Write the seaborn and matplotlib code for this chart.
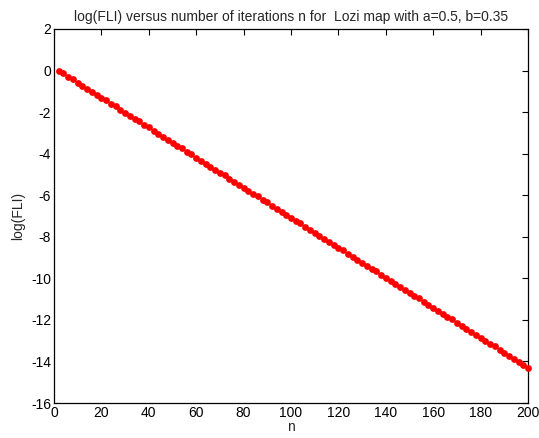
import matplotlib
matplotlib.use("Agg")
import matplotlib.pyplot as plt
import seaborn as sns
import pandas as pd

# Iteration counts and the measured log(FLI) values
n_iter = list(range(2, 201, 2))
log_fli = [
    0.00, -0.14, -0.29, -0.43, -0.58, -0.72, -0.87, -1.01, -1.16, -1.30,
    -1.44, -1.59, -1.73, -1.88, -2.02, -2.17, -2.31, -2.45, -2.60, -2.74,
    -2.89, -3.03, -3.18, -3.32, -3.47, -3.61, -3.75, -3.90, -4.04, -4.19,
    -4.33, -4.48, -4.62, -4.77, -4.91, -5.05, -5.20, -5.34, -5.49, -5.63,
    -5.78, -5.92, -6.06, -6.21, -6.35, -6.50, -6.64, -6.79, -6.93, -7.08,
    -7.22, -7.36, -7.51, -7.65, -7.80, -7.94, -8.09, -8.23, -8.38, -8.52,
    -8.66, -8.81, -8.95, -9.10, -9.24, -9.39, -9.53, -9.67, -9.82, -9.96,
    -10.11, -10.25, -10.40, -10.54, -10.69, -10.83, -10.97, -11.12, -11.26, -11.41,
    -11.55, -11.70, -11.84, -11.98, -12.13, -12.27, -12.42, -12.56, -12.71, -12.85,
    -13.00, -13.14, -13.28, -13.43, -13.57, -13.72, -13.86, -14.01, -14.15, -14.30,
]
x_ticks = list(range(0, 201, 20))
y_ticks = list(range(-16, 3, 2))

df = pd.DataFrame({"n": n_iter, "log(FLI)": log_fli})

sns.set_style("white")
plt.rcParams["font.family"] = ["Liberation Sans", "DejaVu Sans"]
plt.rcParams["axes.unicode_minus"] = False

fig = plt.figure(figsize=(5.39, 4.38), dpi=100)
ax = fig.add_axes([0.1002, 0.0799, 0.8794, 0.8539])

sns.scatterplot(data=df, x="n", y="log(FLI)", ax=ax, color="#ff0000",
                s=24, linewidth=0, marker="o", zorder=3, clip_on=False)

ax.set_xlim(0, 200)
ax.set_ylim(-16, 2)
ax.set_xticks(x_ticks)
ax.set_yticks(y_ticks)
ax.tick_params(direction="in", length=4, width=0.8, labelsize=10,
               top=True, right=True, colors="black", pad=2)
for sp in ax.spines.values():
    sp.set_color("black")
    sp.set_linewidth(0.9)

ax.set_xlabel("n", fontsize=10, labelpad=0)
ax.set_ylabel("log(FLI)", fontsize=10, labelpad=4)
ax.set_title("log(FLI) versus number of iterations n for  Lozi map with a=0.5, b=0.35",
             fontsize=10, pad=6)

fig.savefig("out.png", dpi=100)
